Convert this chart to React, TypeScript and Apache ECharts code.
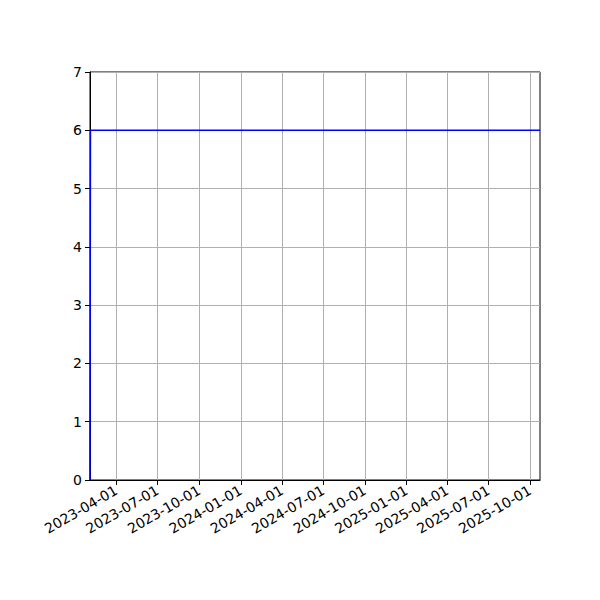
import React, { useEffect, useRef } from 'react'
import * as echarts from 'echarts'

// series: date -> value
const dates = ['2023-02-02', '2023-02-03', '2025-10-23']
const values = [0, 6, 6]

const tickDates = [
  '2023-04-01', '2023-07-01', '2023-10-01', '2024-01-01', '2024-04-01',
  '2024-07-01', '2024-10-01', '2025-01-01', '2025-04-01', '2025-07-01', '2025-10-01'
]
const xMin = '2023-02-02'
const xMax = '2025-10-23'

const yTicks = [0, 1, 2, 3, 4, 5, 6, 7]

const ts = (d: string) => Date.parse(d + 'T00:00:00Z')
const fmt = (v: number) => {
  const d = new Date(v)
  const p = (n: number) => String(n).padStart(2, '0')
  return `${d.getUTCFullYear()}-${p(d.getUTCMonth() + 1)}-${p(d.getUTCDate())}`
}

export default function App() {
  const ref = useRef<HTMLDivElement | null>(null)

  useEffect(() => {
    if (!ref.current) return
    const chart = echarts.init(ref.current, undefined, { renderer: 'svg' })
    const font = 'DejaVu Sans'
    const tickVals = tickDates.map(ts)

    chart.setOption({
      animation: false,
      textStyle: { fontFamily: font },
      grid: {
        left: 90, right: 60, top: 72, bottom: 120,
        show: true, borderColor: '#000', borderWidth: 1, containLabel: false
      },
      xAxis: {
        type: 'value',
        min: ts(xMin),
        max: ts(xMax),
        axisLine: { show: true, onZero: false, lineStyle: { color: '#000', width: 1 } },
        axisTick: {
          show: true, length: 5, lineStyle: { color: '#000' },
          customValues: tickVals
        },
        axisLabel: {
          customValues: tickVals,
          rotate: 30,
          color: '#000',
          fontSize: 14,
          fontFamily: font,
          margin: 9,
          formatter: (v: number) => fmt(v)
        },
        splitLine: { show: true, lineStyle: { color: '#b0b0b0', width: 1 } }
      },
      yAxis: {
        type: 'value',
        min: yTicks[0],
        max: yTicks[yTicks.length - 1],
        interval: 1,
        axisLine: { show: true, lineStyle: { color: '#000', width: 1 } },
        axisTick: { show: true, length: 5, lineStyle: { color: '#000' } },
        axisLabel: { color: '#000', fontSize: 14, fontFamily: font, margin: 8 },
        splitLine: { show: true, lineStyle: { color: '#b0b0b0', width: 1 } }
      },
      series: [{
        type: 'line',
        data: dates.map((d, i) => [ts(d), values[i]]),
        showSymbol: false,
        symbol: 'none',
        lineStyle: { color: '#0000ff', width: 1.5 },
        clip: true
      }]
    })
    return () => chart.dispose()
  }, [])

  return (
    <div
      ref={ref}
      style={{ position: 'fixed', left: 0, top: 0, width: 600, height: 600, background: '#fff' }}
    />
  )
}
